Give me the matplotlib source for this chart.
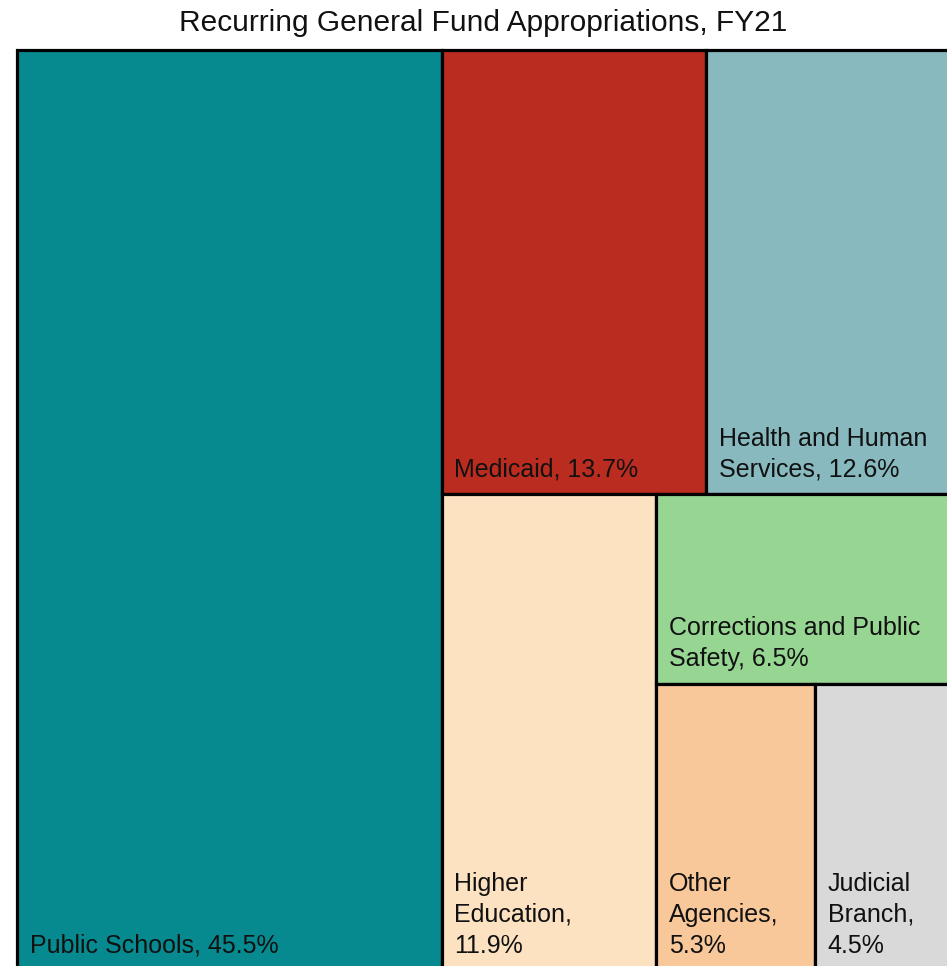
import matplotlib
matplotlib.use('Agg')
import matplotlib.pyplot as plt
from matplotlib.patches import Rectangle

# recurring general fund appropriations, FY21 (percent of total)
labels = ['Public Schools, 45.5%', 'Medicaid, 13.7%', 'Health and Human\nServices, 12.6%',
          'Higher\nEducation,\n11.9%', 'Corrections and Public\nSafety, 6.5%',
          'Other\nAgencies,\n5.3%', 'Judicial\nBranch,\n4.5%']
values = [45.5, 13.7, 12.6, 11.9, 6.5, 5.3, 4.5]
colors = ['#068A8F', '#BB2C20', '#87B9BF', '#FDE2C2', '#96D592', '#F8C89B', '#D9D9D9']
# how many items go in each strip of the treemap
groups = [1, 2, 1, 1, 2]


def layout(vals, groups, x, y, w, h):
    rects = []
    i = 0
    for n, g in enumerate(groups):
        chunk = vals[i:i + g]
        rest = sum(vals[i:])
        frac = sum(chunk) / rest
        last = n == len(groups) - 1
        if last:
            sx, sy, sw, sh = x, y, w, h
            along_x = w >= h
        elif w >= h:
            sx, sy, sw, sh = x, y, w * frac, h
            x, w = x + sw, w - sw
            along_x = False
        else:
            sx, sy, sw, sh = x, y, w, h * frac
            y, h = y + sh, h - sh
            along_x = True
        tot = sum(chunk)
        for v in chunk:
            if along_x:
                cw = sw * v / tot
                rects.append((sx, sy, cw, sh))
                sx += cw
            else:
                ch = sh * v / tot
                rects.append((sx, sy, sw, ch))
                sy += ch
        i += g
    return rects


W, H = 933.0, 920.0

fig = plt.figure(figsize=(9.47, 9.66), dpi=100)
ax = fig.add_axes([17 / 947, 1 - 970 / 966, W / 947, H / 966])
ax.set_xlim(0, W)
ax.set_ylim(H, 0)
ax.axis('off')

for (rx, ry, rw, rh), lab, c in zip(layout(values, groups, 0, 0, W, H), labels, colors):
    ax.add_patch(Rectangle((rx, ry), rw, rh, facecolor=c, edgecolor='black',
                           linewidth=2.3, clip_on=False))
    ax.annotate(lab, (rx, ry + rh), xytext=(9, 9), textcoords='offset points',
                ha='left', va='bottom', fontsize=18, family='Liberation Sans',
                color='#111111', linespacing=1.36)

fig.text(483 / 947, 1 - 23 / 966, 'Recurring General Fund Appropriations, FY21',
         ha='center', va='center', fontsize=21.5, family='Liberation Sans', color='#111111')

fig.savefig('out.png', dpi=100)
